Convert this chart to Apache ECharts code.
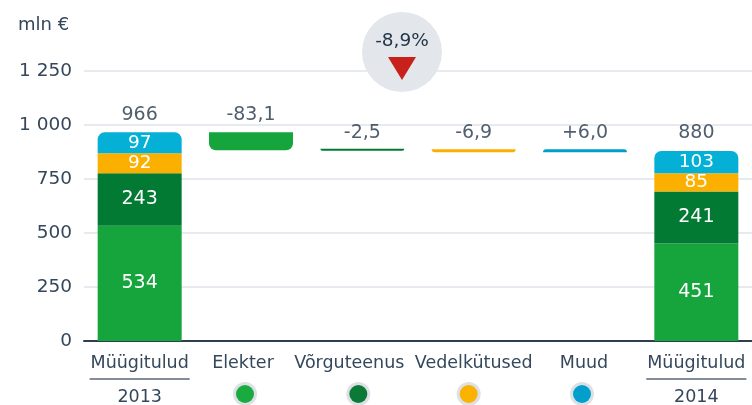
<!DOCTYPE html>
<html><head><meta charset="utf-8">
<script src="https://cdn.jsdelivr.net/npm/echarts@6/dist/echarts.min.js"></script>
<style>html,body{margin:0;padding:0;background:#fff}#c{width:752px;height:405px}</style>
</head><body><div id="c"></div>
<script>
const categories = ['Müügitulud 2013','Elekter','Võrguteenus','Vedelkütused','Muud','Müügitulud 2014'];
const baseValues = [0, 882.9, 880.4, 873.5, 873.5, 0];
const elekter = [534, 83.1, '-', '-', '-', 451];
const vorguteenus = [243, '-', 2.5, '-', '-', 241];
const vedelkytused = [92, '-', '-', 6.9, '-', 85];
const muud = [97, '-', '-', '-', 6.0, 103];
const topValues = [966, 966, 882.9, 880.4, 879.5, 880];
const topLabels = ['966','-83,1','-2,5','-6,9','+6,0','880'];
const yTicks = [0, 250, 500, 750, 1000, 1250];
const changeText = '-8,9%';

const COL = {lg:'#15a53c', dg:'#037a33', or:'#fbb000', cy:'#05b0d6', cy2:'#009fcb'};
const FONT = 'DejaVu Sans';
const textCol = '#24364a';
const labCol = '#34475b';

function items(arr, radiusFn, colorFn){
  return arr.map((v,i)=>{
    if (v==='-') return '-';
    const o = {value:v, itemStyle:{}};
    const r = radiusFn(i); if (r) o.itemStyle.borderRadius = r;
    const c = colorFn ? colorFn(i) : null; if (c) o.itemStyle.color = c;
    return o;
  });
}
const inner = (fs)=>({show:true, position:'inside', color:'#fff', fontSize:fs||17, fontFamily:FONT,
  formatter:p=> (p.dataIndex===0||p.dataIndex===5) ? String(p.value) : ''});

const chart = echarts.init(document.getElementById('c'), null, {renderer:'canvas'});
const dotStyle = c=>({width:18,height:18,borderRadius:12,backgroundColor:c,borderWidth:3,borderColor:'#dde1e6',lineHeight:40});
const sp = w=>({width:w, height:1, lineHeight:22});
chart.setOption({
  animation:false,
  grid:{left:84, right:0, top:71, bottom:64, containLabel:false, outerBoundsMode:'none'},
  xAxis:{type:'category', data:categories,
    axisLine:{lineStyle:{color:'#2c3e50', width:2}}, axisTick:{show:false},
    axisLabel:{interval:0, margin:11, fontFamily:FONT, color:labCol, fontSize:17.5, lineHeight:22,
      formatter:(v,i)=>{
        if (i===0) return '{a|Müügitulud}\n{hr|}\n{y|2013}';
        if (i===5) return '{a|Müügitulud}\n{hr|}\n{y|2014}';
        if (i===1) return '{a|Elekter}{s16|}\n{d1|}{s12|}';
        if (i===2) return '{a|Võrguteenus}{s26|}\n{d2|}{s8|}';
        if (i===3) return '{a|Vedelkütused}\n{d3|}{s10|}';
        return '{a|Muud}{s2|}\n{d4|}{s6|}';
      },
      rich:{
        a:{fontSize:17.5, fontFamily:FONT, color:labCol, lineHeight:22},
        y:{fontSize:17.5, fontFamily:FONT, color:labCol, lineHeight:26},
        hr:{width:100, height:0, lineHeight:10, borderWidth:0.8, borderColor:'#3d4f61'},
        s16:sp(16), s26:sp(26), s2:sp(2), s12:sp(12), s8:sp(8), s10:sp(10), s6:sp(6),
        d1:dotStyle('#1aab3f'), d2:dotStyle('#0a7a36'), d3:dotStyle('#fbb200'), d4:dotStyle('#039fcc')
      }}},
  yAxis:{type:'value', min:0, max:1250, interval:250,
    axisLine:{show:false}, axisTick:{show:false},
    splitLine:{lineStyle:{color:'#dfe3e8', width:1.5}},
    axisLabel:{margin:12, fontFamily:FONT, fontSize:18.5, color:labCol,
      formatter:v=> yTicks.includes(v) ? String(v).replace(/\B(?=(\d{3})+(?!\d))/g,' ') : ''}},
  series:[
    {type:'bar', stack:'t', barWidth:84, data:baseValues, itemStyle:{color:'transparent'}, silent:true},
    {type:'bar', stack:'t', barWidth:84, itemStyle:{color:COL.lg}, label:inner(19),
      data:items(elekter, i=> i===1 ? [0,0,7,7] : 0)},
    {type:'bar', stack:'t', barWidth:84, barMinHeight:2, itemStyle:{color:COL.dg}, label:inner(19),
      data:items(vorguteenus, i=> i===2 ? [0,0,2,2] : 0)},
    {type:'bar', stack:'t', barWidth:84, barMinHeight:3, itemStyle:{color:COL.or}, label:inner(18.5),
      data:items(vedelkytused, i=> i===3 ? [0,0,3,3] : 0)},
    {type:'bar', stack:'t', barWidth:84, barMinHeight:3, itemStyle:{color:COL.cy}, label:inner(18.5),
      data:items(muud, i=> (i===0||i===5) ? [7,7,0,0] : (i===4 ? [3,3,0,0] : 0), i=> i===4 ? COL.cy2 : null)},
    {type:'scatter', symbolSize:0, data:topValues, z:5,
      label:{show:true, position:'top', distance:8, fontFamily:FONT, fontSize:19, color:textCol,
        formatter:p=>topLabels[p.dataIndex]}}
  ],
  graphic:[
    {type:'text', left:18, top:16, z:100, style:{text:'mln €', font:'18px "DejaVu Sans"', fill:labCol}},
    {type:'circle', z:100, shape:{cx:402, cy:52, r:40}, style:{fill:'#e3e6ea'}},
    {type:'text', z:101, x:402, y:41, style:{text:changeText, font:'18.5px "DejaVu Sans"', fill:textCol, align:'center', verticalAlign:'middle'}},
    {type:'polygon', z:101, shape:{points:[[388,57],[416,57],[402,80]]}, style:{fill:'#c8201b'}}
  ]
});
</script></body></html>
